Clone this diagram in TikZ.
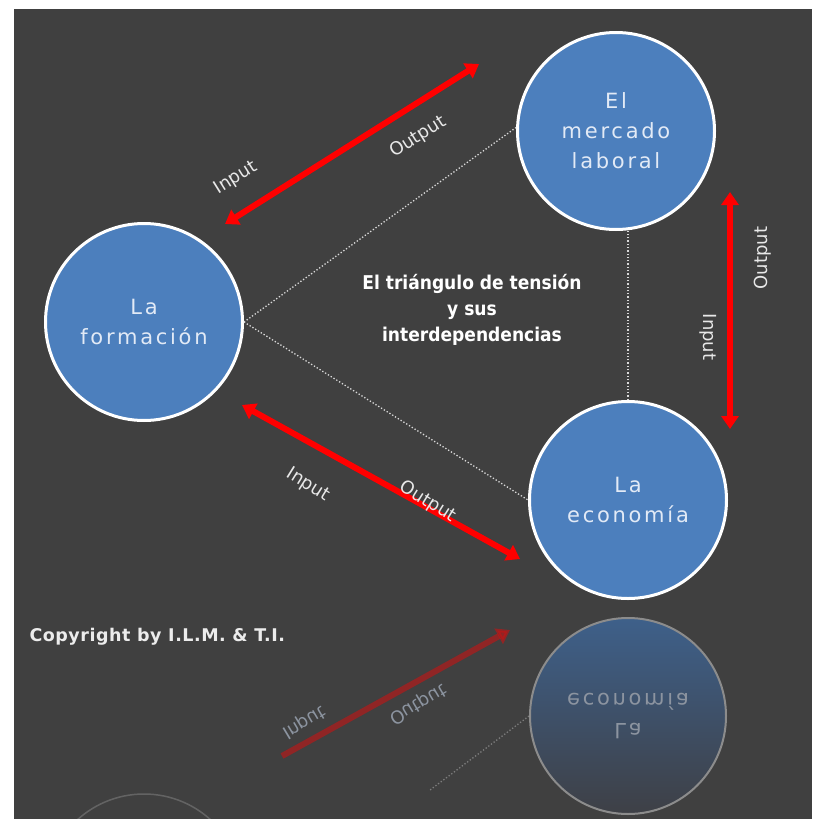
\documentclass[tikz,border=0pt]{standalone}
\usepackage{fontspec}
\setmainfont{DejaVu Sans}
\newfontfamily\ballfont[LetterSpace=13]{DejaVu Sans}
\newfontfamily\tagfont{DejaVu Sans}
\newfontfamily\titlefont{DejaVu Sans Condensed}
\newfontfamily\copyfont[LetterSpace=3]{DejaVu Sans}
\usetikzlibrary{arrows.meta}
\definecolor{bg}{RGB}{64,64,64}
\definecolor{ballblue}{RGB}{76,127,189}
\definecolor{balltext}{RGB}{226,234,246}
\definecolor{arrowred}{RGB}{255,0,0}
\definecolor{mirrorgray}{RGB}{140,148,160}

\tikzset{
  ball/.style={circle, draw=white, line width=3pt, fill=ballblue, minimum size=197pt, inner sep=0pt,
    text=balltext, align=center, font=\ballfont\fontsize{21}{30}\selectfont},
  link/.style={draw=white!80!bg, dotted, line width=1.3pt},
  flow/.style={draw=arrowred, line width=6pt, {Triangle[length=13pt,width=17pt]}-{Triangle[length=13pt,width=17pt]}},
  flowtag/.style={text=white!88!bg, font=\tagfont\fontsize{18}{18}\selectfont, inner sep=1pt},
}

\begin{document}
\begin{tikzpicture}[x=1pt, y=-1pt]
	\useasboundingbox (0,0) rectangle (812,819);
	\fill[white] (0,0) rectangle (812,819);
	\fill[bg] (14,9) rectangle (812,819);
	
	% reflection
	\begin{scope}
		\clip (14,9) rectangle (812,819);
		\node[circle, draw=gray!70, line width=1.5pt, minimum size=198pt, inner sep=0pt, opacity=0.35] (formacionR) at (144,893) {};
		\node[circle, draw=gray!90, line width=2pt, minimum size=196pt, inner sep=0pt,
			top color={rgb,255:red,62;green,96;blue,138}, bottom color={rgb,255:red,62;green,64;blue,70},
			text=mirrorgray, align=center, font=\ballfont\fontsize{21}{30}\selectfont, yscale=-1] (economiaR) at (628,716) {La\\economía};
		\coordinate (rA) at (510,630);
		\coordinate (rB) at (282,756);
		\draw[draw=arrowred!70!bg, line width=6pt, opacity=0.6, -{Triangle[length=13pt,width=17pt]}] (rB) -- (rA);
		\draw[link, opacity=0.4] (economiaR.west) -- (430,790);
		\node[flowtag, text=mirrorgray, rotate=31, yscale=-1] (inR) at (304,722) {Input};
		\node[flowtag, text=mirrorgray, rotate=31, yscale=-1] (outR) at (418,704) {Output};
	\end{scope}
	
	% circles
	\node[ball] (formacion) at (144,322) {La\\formación};
	\node[ball] (mercado) at (616,131) {El\\mercado\\laboral};
	\node[ball] (economia) at (628,500) {La\\economía};
	
	% dotted triangle
	\draw[link] (formacion.east) -- (mercado.178);
	\draw[link] (formacion.east) -- (economia.west);
	\draw[link] (economia.north) -- (economia.north |- mercado.south);
	
	\node[text=white, align=center, font=\titlefont\bfseries\fontsize{19}{26}\selectfont] (title) at (472,310)
		{El triángulo de tensión\\y sus\\interdependencias};
	
	% arrows
	\coordinate (a1) at (225,224);
	\coordinate (a2) at (479,64);
	\coordinate (b1) at (730,192);
	\coordinate (b2) at (730,429);
	\coordinate (c1) at (242,405);
	\coordinate (c2) at (520,559);
	\draw[flow] (a1) -- (a2);
	\draw[flow] (b1) -- (b2);
	\draw[flow] (c1) -- (c2);
	
	\node[flowtag, rotate=32] (in1) at (236,178) {Input};
	\node[flowtag, rotate=32] (out1) at (418,137) {Output};
	\node[flowtag, rotate=90] (out2) at (763,258) {Output};
	\node[flowtag, rotate=-90] (in2) at (708,337) {Input};
	\node[flowtag, rotate=-32] (in3) at (308,485) {Input};
	\node[flowtag, rotate=-32] (out3) at (428,502) {Output};
	
	\node[anchor=west, text=white!90!bg, font=\copyfont\bfseries\fontsize{17.5}{17.5}\selectfont] (copy) at (26,637) {Copyright by I.L.M. \& T.I.};
\end{tikzpicture}
\end{document}
